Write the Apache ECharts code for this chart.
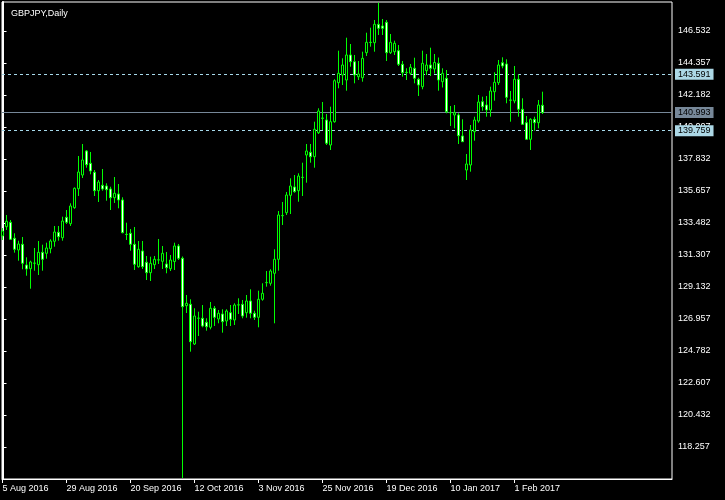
<!DOCTYPE html>
<html><head><meta charset="utf-8">
<script src="https://cdn.jsdelivr.net/npm/echarts@6/dist/echarts.min.js"></script>
<style>html,body{margin:0;padding:0;background:#000}#c{width:725px;height:500px}</style>
</head><body><div id="c"></div>
<script>
const chartTitle = 'GBPJPY,Daily';
const opens = [132.598,133.230,133.529,132.442,131.647,132.034,130.627,130.375,130.743,130.647,
131.490,131.422,131.735,132.238,132.850,132.482,133.869,133.434,134.522,135.813,
136.743,138.376,137.540,136.928,135.677,136.045,135.997,135.793,135.201,135.453,
135.045,132.713,132.782,132.034,130.511,131.579,130.811,130.104,130.647,130.967,
130.878,130.695,130.375,130.865,131.919,131.082,127.860,127.955,125.258,127.005,
127.005,126.732,126.392,127.684,126.957,127.297,126.821,127.385,126.889,127.907,
127.955,127.385,128.180,127.344,127.072,128.295,129.424,129.383,130.063,131.014,
133.977,134.182,135.364,135.929,135.677,136.574,138.104,138.287,137.988,139.619,
140.618,140.483,138.783,140.367,143.018,143.541,143.201,144.901,144.445,143.426,
143.358,145.057,145.764,145.737,146.987,146.872,147.123,145.057,145.125,145.193,
144.269,143.725,143.657,143.997,143.249,142.746,143.834,144.221,143.949,144.337,
143.086,143.317,140.979,140.823,140.823,139.395,137.084,137.424,139.688,140.415,
141.727,141.502,141.163,142.406,143.018,144.377,144.289,141.842,141.774,143.249,
141.210,140.299,139.171,140.530,140.299,141.482];
const highs = [133.142,134.025,133.686,132.782,132.279,132.530,131.150,130.919,131.783,132.259,
132.007,132.143,132.374,133.278,133.278,133.910,134.365,134.820,135.900,138.036,
138.851,138.444,138.308,137.084,136.404,137.152,136.180,135.949,136.608,136.133,
135.228,133.502,133.074,133.210,132.259,132.259,131.239,131.191,131.239,132.394,
131.919,131.511,131.307,132.143,132.055,131.205,128.588,128.295,127.684,127.453,
127.907,127.005,128.112,127.840,127.568,127.616,127.616,127.907,128.023,128.363,
128.248,128.588,128.975,127.521,128.880,129.383,130.219,130.335,131.694,134.297,
134.909,135.589,136.520,136.743,136.860,137.580,138.851,138.851,140.367,141.278,
141.706,140.891,141.387,143.249,145.193,144.676,146.077,145.648,144.901,144.493,
145.125,146.416,146.756,147.280,148.455,147.348,147.280,146.328,145.873,145.580,
144.493,143.997,144.289,144.717,143.358,145.193,144.969,145.397,144.969,144.730,
143.997,143.881,141.434,141.502,140.938,140.530,138.172,140.142,140.707,142.182,
142.066,142.114,142.746,143.725,144.561,144.744,144.608,142.454,144.153,143.589,
141.958,140.755,140.598,140.707,141.842,142.406];
const lows = [132.327,133.006,132.327,131.463,130.919,130.335,129.900,129.016,130.239,129.947,
130.239,131.055,131.422,131.871,132.279,132.279,133.414,133.278,134.450,135.317,
136.540,137.241,136.792,135.317,134.909,135.677,134.997,134.365,134.841,134.481,
132.782,132.327,131.599,130.287,130.443,130.355,129.607,129.539,130.355,130.695,
130.355,130.063,130.219,130.287,130.967,116.150,127.365,124.735,125.190,125.801,
126.392,126.161,126.256,126.481,126.664,126.026,126.481,126.481,126.549,127.297,
127.005,127.045,127.005,126.889,126.392,128.200,129.152,129.220,126.664,130.239,
133.346,134.025,134.093,135.541,134.929,135.317,136.221,137.580,137.241,139.531,
139.803,138.783,138.444,140.299,142.637,142.862,142.474,144.106,142.977,143.201,
143.086,144.833,145.465,145.125,146.260,146.260,144.493,144.969,144.901,144.153,
143.426,143.201,143.541,142.977,142.114,142.569,143.541,143.473,143.643,142.474,
142.692,140.938,140.075,139.918,138.851,139.007,136.404,136.969,139.075,140.299,
141.115,140.707,140.707,141.795,142.862,143.997,141.618,140.367,141.618,140.707,
140.142,139.123,138.444,139.755,139.918,140.891];
const closes = [132.938,133.597,132.374,131.694,132.055,130.743,130.355,130.831,130.760,131.490,
131.014,131.783,132.259,132.870,132.550,133.618,133.529,134.637,135.840,136.948,
137.764,137.444,137.016,135.677,136.269,135.793,135.745,135.201,135.500,135.045,
132.822,132.700,132.034,130.675,131.694,130.511,130.104,130.743,131.014,130.980,
131.422,130.443,130.967,131.919,131.082,127.792,128.023,125.414,127.161,127.020,
126.481,126.433,127.684,127.072,127.344,126.773,127.501,126.936,127.907,127.920,
127.161,128.180,127.344,127.072,128.295,128.703,129.440,130.219,131.014,134.025,
133.990,135.385,135.997,135.609,136.676,136.590,138.376,137.988,139.851,141.094,
140.600,138.899,140.367,143.154,143.657,144.221,144.901,144.445,143.541,143.609,
144.676,145.764,145.750,146.987,146.715,146.715,145.057,145.764,145.696,144.269,
143.698,143.710,144.065,143.317,142.862,144.337,144.221,143.997,144.391,143.201,
143.657,141.047,140.990,140.979,139.416,139.007,137.492,139.803,140.483,141.706,
141.387,141.163,142.454,143.045,144.221,144.153,142.025,141.830,143.249,141.210,
140.190,139.171,140.530,140.299,141.502,140.993];
const xTickIndex = [0,16,32,48,64,80,96,112,128];
const xTickLabels = ['5 Aug 2016','29 Aug 2016','20 Sep 2016','12 Oct 2016','3 Nov 2016','25 Nov 2016','19 Dec 2016','10 Jan 2017','1 Feb 2017'];
const yTicks = [118.257,120.432,122.607,124.782,126.957,129.132,131.307,133.482,135.657,137.832,140.007,142.182,144.357,146.532];
const levelHigh = 143.591;
const levelLow = 139.759;
const lastPrice = 140.993;

const font = 'Liberation Sans';
const data = opens.map((o, i) => [i, o, closes[i], lows[i], highs[i]]);
const chart = echarts.init(document.getElementById('c'), null, {renderer: 'canvas'});
function lvlLabel(val, bg) {
  return {show: true, position: 'end', distance: 3, formatter: () => val.toFixed(3),
    color: '#000', backgroundColor: bg, padding: [1, 3, 1, 3], fontFamily: font, fontSize: 9, lineHeight: 9};
}
chart.setOption({
  backgroundColor: '#000',
  animation: false,
  title: {text: chartTitle, left: 6, top: 4, textStyle: {color: '#fff', fontSize: 9, fontWeight: 'normal', fontFamily: font}},
  grid: {left: 2, top: 2, width: 670, height: 477, containLabel: false, outerBoundsMode: 'none',
    show: true, borderColor: '#fff', borderWidth: 1, backgroundColor: 'transparent'},
  xAxis: {
    type: 'value', min: -0.125, max: 167.375,
    axisLine: {show: true, onZero: false, lineStyle: {color: '#fff'}},
    axisTick: {show: true, length: 4, customValues: xTickIndex, lineStyle: {color: '#fff'}},
    axisLabel: {customValues: xTickIndex, color: '#fff', fontFamily: font, fontSize: 9, align: 'left', margin: 5,
      formatter: v => { const k = xTickIndex.indexOf(Math.round(v)); return k >= 0 ? xTickLabels[k] : ''; }},
    splitLine: {show: false}
  },
  yAxis: {
    type: 'value', position: 'right', min: 116.081, max: 148.503, scale: true,
    axisLine: {show: true, lineStyle: {color: '#fff', width: 2}},
    axisTick: {show: true, length: 4, customValues: yTicks, lineStyle: {color: '#fff'}},
    axisLabel: {customValues: yTicks, color: '#fff', fontFamily: font, fontSize: 9, margin: 6, formatter: v => Number(v).toFixed(3)},
    splitLine: {show: false}
  },
  series: [{
    type: 'candlestick', data: data, encode: {x: 0, y: [1, 2, 3, 4]},
    barWidth: 2,
    itemStyle: {color: '#000', color0: '#fff', borderColor: '#00ff00', borderColor0: '#00ff00', borderWidth: 1},
    markLine: {
      symbol: 'none', silent: true, animation: false, z: 1,
      data: [
        {yAxis: levelHigh, lineStyle: {color: '#a6d8ea', type: [3, 3], width: 1}, label: lvlLabel(levelHigh, '#add8e6')},
        {yAxis: lastPrice, lineStyle: {color: '#778899', type: 'solid', width: 1}, label: lvlLabel(lastPrice, '#778899')},
        {yAxis: levelLow, lineStyle: {color: '#a6d8ea', type: [3, 3], width: 1}, label: lvlLabel(levelLow, '#add8e6')}
      ]
    }
  }]
});
</script></body></html>
